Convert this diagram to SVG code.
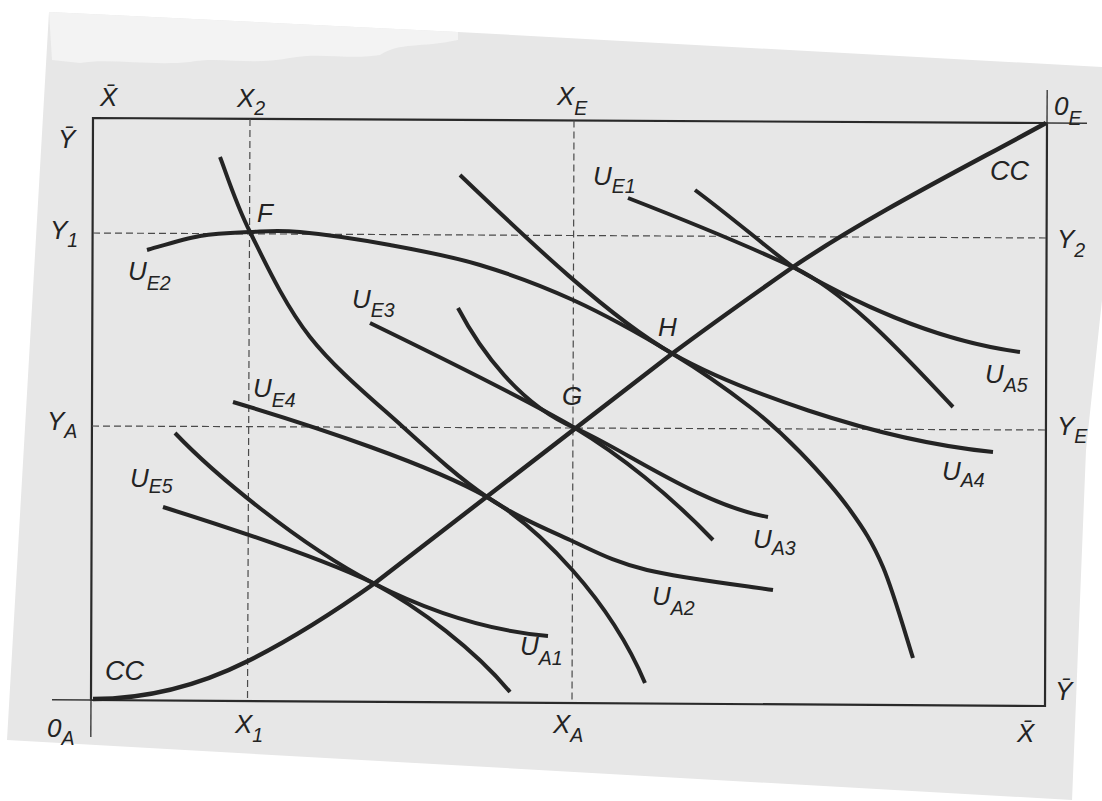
<svg xmlns="http://www.w3.org/2000/svg" width="1102" height="801" viewBox="0 0 1102 801">
<style>
.lbl{font-family:"Liberation Sans",Arial,sans-serif;font-style:italic;font-size:26px;fill:#232323}
.sub{font-size:19.5px}
.cc{font-size:27px}
.curve{fill:none;stroke:#242424;stroke-width:4;stroke-linecap:butt;stroke-linejoin:round}
.dash{fill:none;stroke:#4a4a4a;stroke-width:1.2;stroke-dasharray:7 4}
.axis{fill:none;stroke:#2a2a2a;stroke-width:2.2}
.ext{fill:none;stroke:#3a3a3a;stroke-width:1.4}
</style>
<rect width="1102" height="801" fill="#ffffff"/>
<g id="page">
<polygon points="49,12 458,32 1102,67 1102,300 1086,450 1072,801 1072,800 7,740" fill="#e7e7e7"/>
<path d="M49,12 L458,32 L458,40 C420,48 400,42 380,55 C350,60 320,52 290,58 C250,66 220,56 190,62 C150,66 110,58 80,63 L52,60 Z" fill="#f3f3f3"/>
</g>
<g id="box">
<polygon class="axis" points="93,118 1047,123 1045,706 91,700"/>
<line class="ext" x1="1047" y1="123" x2="1087" y2="123.3"/>
<line class="ext" x1="1047" y1="123" x2="1047.2" y2="90"/>
<line class="ext" x1="91" y1="700" x2="52" y2="699.8"/>
<line class="ext" x1="91" y1="700" x2="90.8" y2="737"/>
</g>
<g id="guides">
<line class="dash" x1="250" y1="119" x2="247.5" y2="701"/>
<line class="dash" x1="574" y1="120.5" x2="572" y2="703"/>
<line class="dash" x1="93" y1="233" x2="1046" y2="238"/>
<line class="dash" x1="92" y1="426" x2="1046" y2="430"/>
</g>
<g id="connectors">
<path id="cc" class="curve" style="stroke-width:4.4" d="M93,699 C150,699 200,685 248,661 C290,640 330,615 375,583 L673,353 C720,318 760,290 793,267 C870,215 960,170 1046,123"/>
<path id="ue2" class="curve" d="M147,250 C155.8,247.7 182.8,239 200,236 C217.2,233 233.3,232.7 250,232 C266.7,231.3 276.7,229.8 300,232 C323.3,234.2 360,239.5 390,245 C420,250.5 449.5,255.8 480,265 C510.5,274.2 540.8,285.2 573,300 C605.2,314.8 643.5,336.2 673,354 C702.5,371.8 728.8,390.7 750,407 C771.2,423.3 783.3,434.8 800,452 C816.7,469.2 836.2,490.8 850,510 C863.8,529.2 872.5,542.3 883,567 C893.5,591.7 908,642.8 913,658"/>
<path id="ua4" class="curve" d="M460,175 C530,242 610,318 673,354 C730,386 870,440 993,452"/>
<path id="ue1" class="curve" d="M628,198 C700,226 750,247 793,267 C850,294 910,362 953,407"/>
<path id="ua5" class="curve" d="M695,190 C730,216 765,246 793,267 C850,300 930,340 1020,352"/>
<path id="ue3" class="curve" d="M370,323 C440,357 520,396 575,428 C620,455 670,495 713,540"/>
<path id="ua3" class="curve" d="M458,308 C480,350 520,405 575,428 C620,447 700,505 768,517"/>
<path id="ua2" class="curve" d="M220,157 C225,169.5 235,202 250,232 C265,262 284.5,304.5 310,337 C335.5,369.5 373.5,400.3 403,427 C432.5,453.7 459.2,478.2 487,497 C514.8,515.8 543.3,527.8 570,540 C596.7,552.2 613.2,561.7 647,570 C680.8,578.3 752,586.7 773,590"/>
<path id="ue4" class="curve" d="M233,402 C320,428 430,465 487,497 C540,528 610,600 645,683"/>
<path id="ue5" class="curve" d="M163,507 C230,528 320,558 373,583 C420,608 475,650 510,692"/>
<path id="ua1" class="curve" d="M175,433 C215,475 300,545 373,583 C420,607 480,630 548,636"/>
</g>
<g id="labels">
<g id="n-xbar-top"><text class="lbl" x="100" y="106">X&#x304;</text></g>
<g id="n-ybar-left"><text class="lbl" x="58" y="148">Y&#x304;</text></g>
<g id="n-x2"><text class="lbl" x="237" y="107">X<tspan class="sub" dy="8">2</tspan></text></g>
<g id="n-xe"><text class="lbl" x="557" y="105">X<tspan class="sub" dy="10">E</tspan></text></g>
<g id="n-0e"><text class="lbl" x="1054" y="115">0<tspan class="sub" dy="10">E</tspan></text></g>
<g id="n-y1"><text class="lbl" x="50" y="239">Y<tspan class="sub" dy="8">1</tspan></text></g>
<g id="n-f"><text class="lbl" x="257" y="222">F</text></g>
<g id="n-ue2"><text class="lbl" x="128" y="280">U<tspan class="sub" dy="10">E2</tspan></text></g>
<g id="n-ue1"><text class="lbl" x="593" y="185">U<tspan class="sub" dy="8">E1</tspan></text></g>
<g id="n-cc-top"><text class="lbl cc" x="990" y="180">CC</text></g>
<g id="n-y2"><text class="lbl" x="1057" y="248">Y<tspan class="sub" dy="9">2</tspan></text></g>
<g id="n-ue3"><text class="lbl" x="352" y="308">U<tspan class="sub" dy="9">E3</tspan></text></g>
<g id="n-h"><text class="lbl" x="658" y="336">H</text></g>
<g id="n-ua5"><text class="lbl" x="985" y="383">U<tspan class="sub" dy="9">A5</tspan></text></g>
<g id="n-g"><text class="lbl" x="562" y="405">G</text></g>
<g id="n-ue4"><text class="lbl" x="253" y="397">U<tspan class="sub" dy="10">E4</tspan></text></g>
<g id="n-ya"><text class="lbl" x="47" y="430">Y<tspan class="sub" dy="8">A</tspan></text></g>
<g id="n-ye"><text class="lbl" x="1057" y="435">Y<tspan class="sub" dy="8">E</tspan></text></g>
<g id="n-ua4"><text class="lbl" x="942" y="480">U<tspan class="sub" dy="7">A4</tspan></text></g>
<g id="n-ue5"><text class="lbl" x="130" y="487">U<tspan class="sub" dy="6">E5</tspan></text></g>
<g id="n-ua3"><text class="lbl" x="753" y="548">U<tspan class="sub" dy="7">A3</tspan></text></g>
<g id="n-ua2"><text class="lbl" x="652" y="605">U<tspan class="sub" dy="10">A2</tspan></text></g>
<g id="n-ua1"><text class="lbl" x="520" y="655">U<tspan class="sub" dy="10">A1</tspan></text></g>
<g id="n-cc-bottom"><text class="lbl cc" x="105" y="680">CC</text></g>
<g id="n-ybar-right"><text class="lbl" x="1055" y="700">Y&#x304;</text></g>
<g id="n-0a"><text class="lbl" x="47" y="737">0<tspan class="sub" dy="8">A</tspan></text></g>
<g id="n-x1"><text class="lbl" x="235" y="733">X<tspan class="sub" dy="9">1</tspan></text></g>
<g id="n-xa"><text class="lbl" x="553" y="733">X<tspan class="sub" dy="9">A</tspan></text></g>
<g id="n-xbar-bottom"><text class="lbl" x="1017" y="742">X&#x304;</text></g>
</g>
</svg>
